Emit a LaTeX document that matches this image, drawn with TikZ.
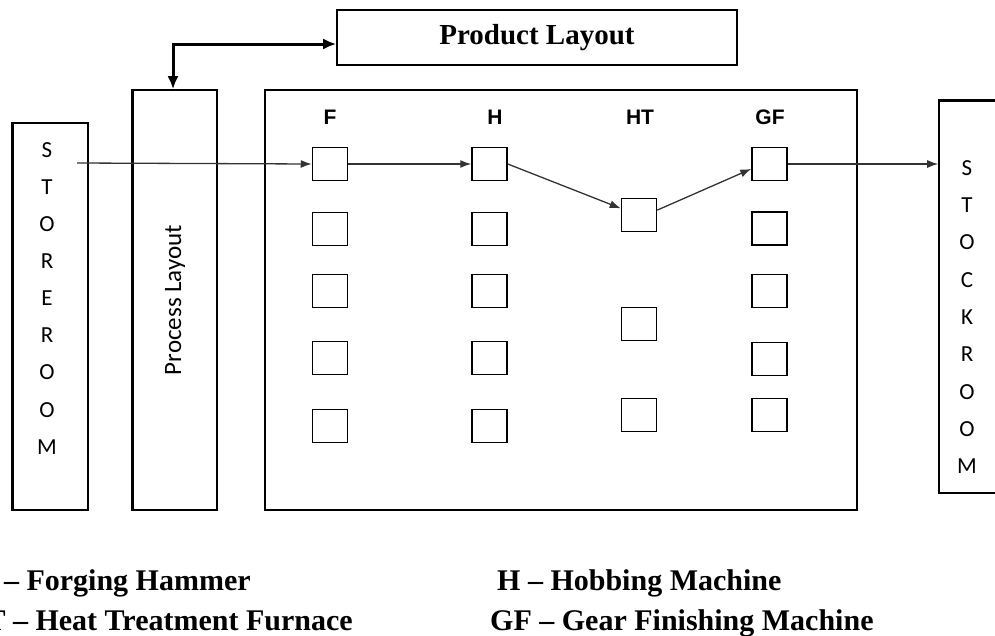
\documentclass[tikz,border=0pt]{standalone}
\usepackage{fontspec}
\setmainfont{Liberation Serif}
\newfontfamily\labelsans{Carlito}
\newfontfamily\headsans{Liberation Sans}
\usetikzlibrary{arrows.meta,calc}
\begin{document}
\begin{tikzpicture}[x=1pt,y=-1pt,
  box/.style={draw,line width=1.6pt,inner sep=0pt},
  machine/.style={draw,line width=1.5pt,minimum width=35pt,minimum height=33pt,inner sep=0pt},
  flow/.style={line width=1.3pt,draw=black!80,-{Latex[length=11pt,width=8pt]}},
  colhead/.style={font=\headsans\bfseries\fontsize{21}{23}\selectfont},
  vletter/.style={font=\labelsans\fontsize{23}{25}\selectfont},
  legend/.style={anchor=base west,inner sep=0pt,font=\bfseries\fontsize{30}{32}\selectfont}]
\useasboundingbox (0,0) rectangle (995,635);

% outer boxes
\node[box,minimum width=400pt,minimum height=55pt] (prod) at (537,37.5) {};
\node[font=\bfseries\fontsize{29}{31}\selectfont] at (prod.center) {Product Layout};
\node[box,minimum width=84pt,minimum height=420pt] (proc) at (175,300) {};
\node[rotate=90,font=\labelsans\fontsize{25}{27}\selectfont] at (175,300) {Process Layout};
\node[box,minimum width=75pt,minimum height=387pt] (store) at (50.5,316.5) {};
\node[box,minimum width=592pt,minimum height=420pt] (main) at (561,300) {};
\node[box,minimum width=90pt,minimum height=392pt] (stock) at (984,297) {};

% thicker edges
\draw[line width=3pt] (proc.north west) -- (proc.south west);
\draw[line width=3pt] (store.north west) -- (store.south west);
\draw[line width=3pt] (stock.north west) -- (stock.north east);

% vertical letters
\foreach \c [count=\i from 0] in {S,T,O,R,E,R,O,O,M}
  \node[vletter] at (47,150+37.1*\i) {\c};
\foreach \c [count=\i from 0] in {S,T,O,C,K,R,O,O,M}
  \node[vletter] at (967,168+37.3*\i) {\c};

% column headings
\node[colhead] at (330,117) {F};
\node[colhead] at (495,117) {H};
\node[colhead] at (640,117) {HT};
\node[colhead] at (770,117) {GF};

% machines
\foreach \y [count=\i] in {164,229,291,358,426}
  \node[machine] (f\i) at (330,\y) {};
\foreach \y [count=\i] in {164,229,291,358,426}
  \node[machine] (h\i) at (489.5,\y) {};
\foreach \y [count=\i] in {215,324,415}
  \node[machine] (ht\i) at (639,\y) {};
\foreach \y [count=\i] in {164,228.5,291,359,415}
  \node[machine] (gf\i) at (769.5,\y) {};

% product flow
\coordinate (src) at (77,163);
\draw[flow] (src) -- (f1.west);
\draw[flow] (f1.east) -- (h1.west);
\draw[flow] (h1.east) -- (ht1.160);
\draw[flow] (ht1.15) -- (gf1.195);
\draw[flow] (gf1.east) -- (gf1.east -| stock.west);

% link between the two layouts
\draw[line width=3pt,{Latex[length=13pt,width=11pt]}-{Latex[length=13pt,width=11pt]}]
  (proc.north -| 173,0) |- ($(prod.west)+(0,6.5)$);

% key
\node[legend] at (-22,590) {F -- Forging Hammer};
\node[legend] at (-38,630) {HT -- Heat Treatment Furnace};
\node[legend] at (497,590) {H -- Hobbing Machine};
\node[legend] at (490,630) {GF -- Gear Finishing Machine};
\end{tikzpicture}
\end{document}
